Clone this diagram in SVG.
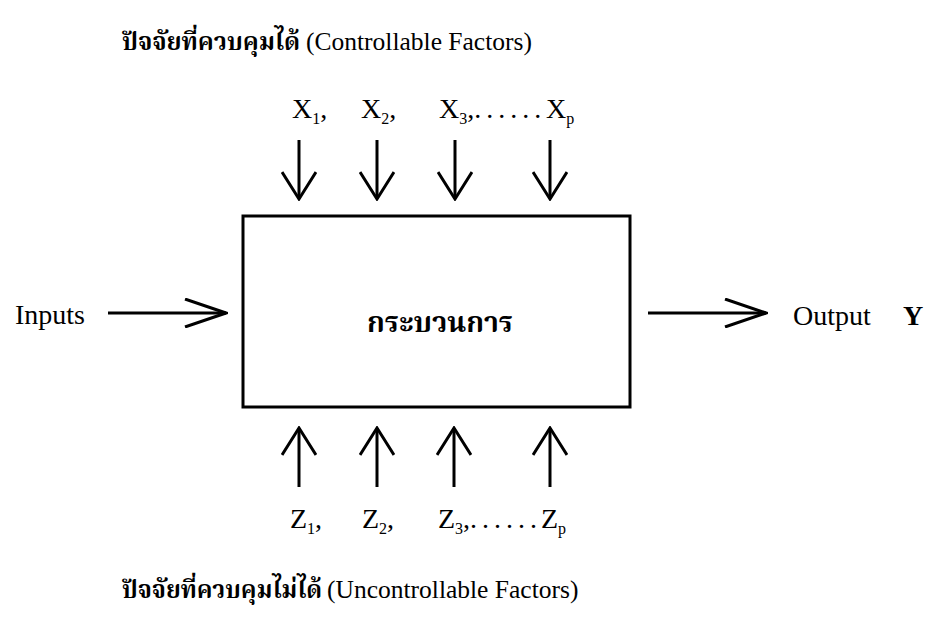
<svg xmlns="http://www.w3.org/2000/svg" width="936" height="631" viewBox="0 0 936 631">
<style>
  .t { font-family: "Liberation Serif", "Noto Serif Thai", "Noto Sans Thai", serif; fill: #000; }
  .th { font-family: "Noto Serif Thai", "Noto Sans Thai", "Liberation Serif", serif; fill: #000; }
  .title { font-size: 25.5px; }
  .lbl { font-size: 28px; }
  .sub { font-size: 16px; }
  .dots { letter-spacing: 5px; }
  .shaft { stroke: #000; stroke-width: 3; fill: none; }
  .box { stroke: #000; stroke-width: 3; fill: #fff; }
</style>
<defs>
  <marker id="hv" viewBox="0 0 30 36" markerWidth="30" markerHeight="36" refX="28" refY="18" orient="auto" markerUnits="userSpaceOnUse">
    <path d="M1,1 L28,18 L1,35" fill="none" stroke="#000" stroke-width="3"/>
  </marker>
  <marker id="hh" viewBox="0 0 44 30" markerWidth="44" markerHeight="30" refX="42" refY="15" orient="auto" markerUnits="userSpaceOnUse">
    <path d="M1,1 L42,15 L1,29" fill="none" stroke="#000" stroke-width="3"/>
  </marker>
</defs>

<g id="title-top">
  <text class="th" x="122" y="50" font-size="24" font-weight="bold" textLength="178" lengthAdjust="spacingAndGlyphs">ปัจจัยที่ควบคุมได้</text>
  <text class="t title" x="306" y="50">(Controllable Factors)</text>
</g>

<g id="x-labels">
  <text class="t lbl" x="292" y="118">X<tspan class="sub" dy="6">1</tspan><tspan dy="-6">,</tspan></text>
  <text class="t lbl" x="361" y="118">X<tspan class="sub" dy="6">2</tspan><tspan dy="-6">,</tspan></text>
  <text class="t lbl" x="439" y="118">X<tspan class="sub" dy="6">3</tspan><tspan dy="-6">,</tspan><tspan class="dots">......</tspan><tspan x="546">X</tspan><tspan class="sub" dy="6">p</tspan></text>
</g>

<g id="process">
  <rect class="box" x="243" y="216" width="387" height="191"/>
  <text class="th" x="367" y="332" font-size="28" font-weight="bold" textLength="146" lengthAdjust="spacingAndGlyphs">กระบวนการ</text>
</g>

<g id="inputs">
  <text class="t lbl" x="15" y="324">Inputs</text>
</g>

<g id="output">
  <text class="t lbl" x="793" y="325">Output</text>
  <text class="t lbl" x="903" y="325" font-weight="bold">Y</text>
</g>

<g id="z-labels">
  <text class="t lbl" x="290" y="528">Z<tspan class="sub" dy="6">1</tspan><tspan dy="-6">,</tspan></text>
  <text class="t lbl" x="362" y="528">Z<tspan class="sub" dy="6">2</tspan><tspan dy="-6">,</tspan></text>
  <text class="t lbl" x="438" y="528">Z<tspan class="sub" dy="6">3</tspan><tspan dy="-6">,</tspan><tspan class="dots">......</tspan><tspan x="541">Z</tspan><tspan class="sub" dy="6">p</tspan></text>
</g>

<g id="title-bottom">
  <text class="th" x="122" y="598" font-size="24" font-weight="bold" textLength="200" lengthAdjust="spacingAndGlyphs">ปัจจัยที่ควบคุมไม่ได้</text>
  <text class="t title" x="327" y="598">(Uncontrollable Factors)</text>
</g>

<g id="connectors">
  <line class="shaft" x1="299" y1="140" x2="299" y2="199" marker-end="url(#hv)"/>
  <line class="shaft" x1="377" y1="140" x2="377" y2="199" marker-end="url(#hv)"/>
  <line class="shaft" x1="455" y1="140" x2="455" y2="199" marker-end="url(#hv)"/>
  <line class="shaft" x1="550" y1="140" x2="550" y2="199" marker-end="url(#hv)"/>

  <line class="shaft" x1="299" y1="487" x2="299" y2="428" marker-end="url(#hv)"/>
  <line class="shaft" x1="377" y1="487" x2="377" y2="428" marker-end="url(#hv)"/>
  <line class="shaft" x1="454" y1="487" x2="454" y2="428" marker-end="url(#hv)"/>
  <line class="shaft" x1="550" y1="487" x2="550" y2="428" marker-end="url(#hv)"/>

  <line class="shaft" x1="108" y1="313" x2="226" y2="313" marker-end="url(#hh)"/>
  <line class="shaft" x1="648" y1="313" x2="766" y2="313" marker-end="url(#hh)"/>
</g>
</svg>
